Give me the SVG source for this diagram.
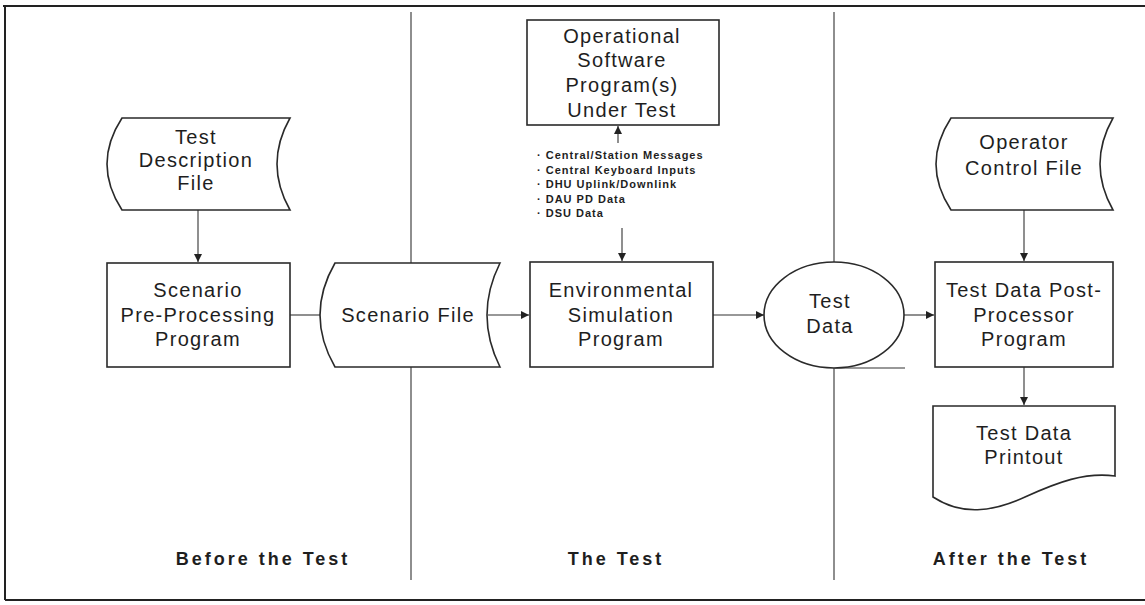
<svg xmlns="http://www.w3.org/2000/svg" width="1145" height="605" viewBox="0 0 1145 605">
<style>
.shape{fill:#fff;stroke:#2a2a2a;stroke-width:1.6}
.conn{fill:none;stroke:#333;stroke-width:1.1}
.div{fill:none;stroke:#444;stroke-width:1.2}
.frame{fill:none;stroke:#222;stroke-width:2}
.t{font-family:"Liberation Sans",Arial,sans-serif;font-size:20px;letter-spacing:1.3px;fill:#1e1e1e;text-anchor:middle}
.b{font-family:"Liberation Sans",Arial,sans-serif;font-size:11px;font-weight:bold;letter-spacing:1px;fill:#1e1e1e}
.h{font-family:"Liberation Sans",Arial,sans-serif;font-size:18px;font-weight:bold;letter-spacing:3px;fill:#1e1e1e;text-anchor:middle}
</style>
<defs>
<marker id="ah" viewBox="0 0 10 10" refX="10" refY="5" markerWidth="9" markerHeight="8" markerUnits="userSpaceOnUse" orient="auto">
<path d="M0,0 L10,5 L0,10 Z" fill="#222"/>
</marker>
</defs>
<rect width="1145" height="605" fill="#fff"/>
<g id="frame">
<path class="frame" d="M3,6 H1145 M5,6 V600 M5,600 H1145"/>
</g>
<g id="dividers">
<path class="div" d="M411,12 V263 M411,367 V580 M834,12 V262 M834,368 V580"/>
</g>
<g id="connectors">
<path class="conn" d="M198,210 V262" marker-end="url(#ah)"/>
<path class="conn" d="M290,315 H321"/>
<path class="conn" d="M488,315 H529" marker-end="url(#ah)"/>
<path class="conn" d="M618,143 V126" marker-end="url(#ah)"/>
<path class="conn" d="M622,228 V261" marker-end="url(#ah)"/>
<path class="conn" d="M713,315 H764" marker-end="url(#ah)"/>
<path class="conn" d="M904,315 H934" marker-end="url(#ah)"/>
<path class="conn" d="M1024,210 V261" marker-end="url(#ah)"/>
<path class="conn" d="M1024,367 V405" marker-end="url(#ah)"/>
<path class="conn" d="M835,368 H905"/>
</g>
<g id="test-description-file">
<path class="shape" d="M122,118 H290 Q264,164 290,210 H122 Q92,164 122,118 Z"/>
<text class="t" x="196" y="144">Test</text>
<text class="t" x="196" y="167">Description</text>
<text class="t" x="196" y="190">File</text>
</g>
<g id="scenario-preprocessing">
<rect class="shape" x="107" y="263" width="183" height="104"/>
<text class="t" x="198" y="297">Scenario</text>
<text class="t" x="198" y="322">Pre-Processing</text>
<text class="t" x="198" y="346">Program</text>
</g>
<g id="scenario-file">
<path class="shape" d="M335,263 H500 Q474,315 500,367 H335 Q305,315 335,263 Z"/>
<text class="t" x="408" y="322">Scenario File</text>
</g>
<g id="operational-software">
<rect class="shape" x="527" y="20" width="192" height="105"/>
<text class="t" x="622" y="43">Operational</text>
<text class="t" x="622" y="67">Software</text>
<text class="t" x="622" y="92">Program(s)</text>
<text class="t" x="622" y="117">Under Test</text>
</g>
<g id="inputs-list">
<text class="b" x="537" y="159">· Central/Station Messages</text>
<text class="b" x="537" y="174">· Central Keyboard Inputs</text>
<text class="b" x="537" y="188">· DHU Uplink/Downlink</text>
<text class="b" x="537" y="203">· DAU PD Data</text>
<text class="b" x="537" y="217">· DSU Data</text>
</g>
<g id="environmental-simulation">
<rect class="shape" x="530" y="262" width="183" height="105"/>
<text class="t" x="621" y="297">Environmental</text>
<text class="t" x="621" y="322">Simulation</text>
<text class="t" x="621" y="346">Program</text>
</g>
<g id="test-data">
<ellipse class="shape" cx="834" cy="315" rx="70" ry="53"/>
<text class="t" x="830" y="308">Test</text>
<text class="t" x="830" y="333">Data</text>
</g>
<g id="operator-control-file">
<path class="shape" d="M951,118 H1113 Q1087,164 1113,210 H951 Q921,164 951,118 Z"/>
<text class="t" x="1024" y="149">Operator</text>
<text class="t" x="1024" y="175">Control File</text>
</g>
<g id="post-processor">
<rect class="shape" x="935" y="262" width="178" height="105"/>
<text class="t" x="1024" y="297">Test Data Post-</text>
<text class="t" x="1024" y="322">Processor</text>
<text class="t" x="1024" y="346">Program</text>
</g>
<g id="printout">
<path class="shape" d="M933,406 H1115 V476 C1085,472 1058,482 1025,497 C992,512 962,516 933,497 Z"/>
<text class="t" x="1024" y="440">Test Data</text>
<text class="t" x="1024" y="464">Printout</text>
</g>
<g id="phase-labels">
<text class="h" x="263" y="565">Before the Test</text>
<text class="h" x="616" y="565">The Test</text>
<text class="h" x="1011" y="565">After the Test</text>
</g>
</svg>
